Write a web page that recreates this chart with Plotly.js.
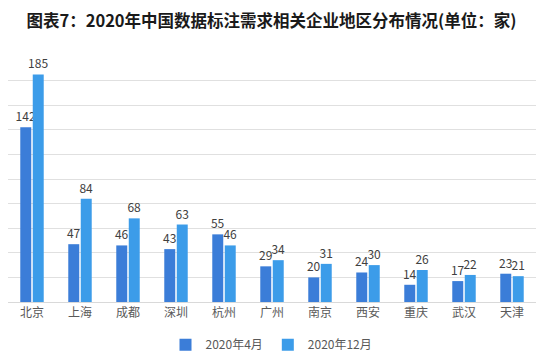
<!DOCTYPE html>
<html>
<head>
<meta charset="utf-8">
<script src="https://cdn.plot.ly/plotly-3.0.1.min.js"></script>
<style>html,body{margin:0;padding:0;background:#fff;}#chart{width:543px;height:359px;}</style>
</head>
<body>
<div id="chart"></div>
<script>
const categories = ["北京","上海","成都","深圳","杭州","广州","南京","西安","重庆","武汉","天津"];
const seriesNames = ["2020年4月","2020年12月"];
const valuesApr = [142,47,46,43,55,29,20,24,14,17,23];
const valuesDec = [185,84,68,63,46,34,31,30,26,22,21];

const font = "Noto Sans CJK SC, Microsoft YaHei, sans-serif";
const mk = (name, vals, color) => ({
  type: "bar", name: name, x: categories, y: vals,
  marker: {color: color},
  text: vals.map(String), textposition: "outside", constraintext: "none",
  textfont: {family: font, size: 12, color: "#404040"},
  cliponaxis: false, hoverinfo: "none"
});
const data = [mk(seriesNames[0], valuesApr, "#3b7dd8"), mk(seriesNames[1], valuesDec, "#3c9ce9")];
const layout = {
  width: 543, height: 359,
  margin: {l: 8, r: 7, t: 56, b: 57},
  paper_bgcolor: "#fff", plot_bgcolor: "#fff",
  title: {text: "<b>图表7：2020年中国数据标注需求相关企业地区分布情况(单位：家)</b>",
          font: {family: font, size: 16.5, color: "#1a1a1a"}, x: 0.5, xanchor: "center", y: 0.94, yanchor: "middle"},
  bargap: 0.48, bargroupgap: 0.12, barmode: "group",
  xaxis: {showline: true, linecolor: "#d9d9d9", linewidth: 1, ticks: "",
          tickfont: {family: font, size: 12, color: "#595959"}, fixedrange: true, automargin: false},
  yaxis: {range: [0, 200], dtick: 20, showticklabels: false, gridcolor: "#e0e0e0", gridwidth: 1,
          zeroline: false, fixedrange: true, automargin: false},
  showlegend: true,
  legend: {orientation: "h", x: 0.5, xanchor: "center", xref: "container", yref: "container",
           y: 0.04, yanchor: "middle",
           font: {family: font, size: 12, color: "#595959"}, itemwidth: 30, traceorder: "normal"}
};
Plotly.newPlot("chart", data, layout, {displayModeBar: false, staticPlot: true});
</script>
</body>
</html>
